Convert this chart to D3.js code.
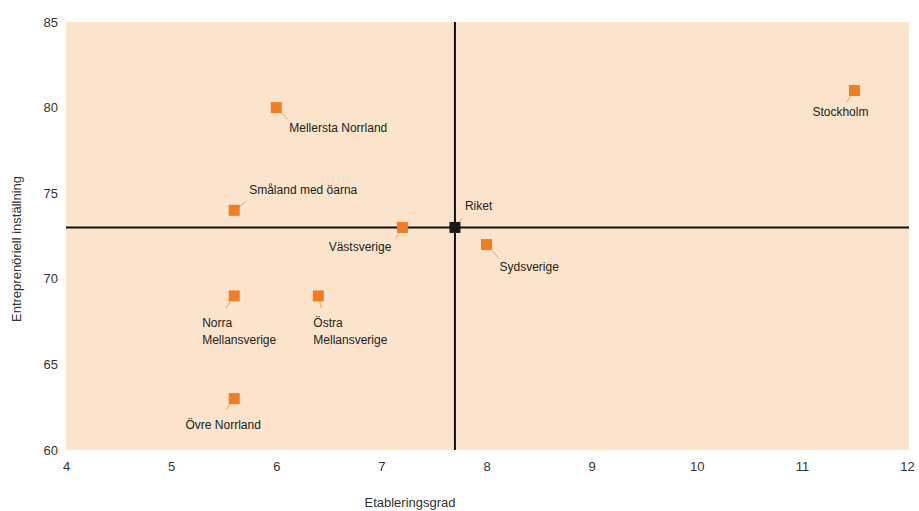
<!DOCTYPE html>
<html>
<head>
<meta charset="utf-8">
<script src="https://cdn.jsdelivr.net/npm/d3@7"></script>
<style>
  body { margin: 0; background: #fff; }
  text { font-family: "Liberation Sans", Arial, sans-serif; }
</style>
</head>
<body>
<div id="chart"></div>
<script>
var svgWidth = 919;
var svgHeight = 511;

var margin = { top: 22, right: 10, bottom: 61, left: 66 };
var width = svgWidth - margin.left - margin.right;
var height = svgHeight - margin.top - margin.bottom;

// data
var regions = ["Mellersta Norrland", "Småland med öarna", "Västsverige", "Riket", "Sydsverige",
  "Norra Mellansverige", "Östra Mellansverige", "Övre Norrland", "Stockholm"];
var etablering = [6.0, 5.6, 7.2, 7.7, 8.0, 5.6, 6.4, 5.6, 11.5];
var entreprenoriell = [80, 74, 73, 73, 72, 69, 69, 63, 81];
var xTicks = [4, 5, 6, 7, 8, 9, 10, 11, 12];
var yTicks = [60, 65, 70, 75, 80, 85];
var refX = 7.7;   // Riket
var refY = 73;

// label placement: [text dx, text dy, anchor, leader end dx, leader end dy]
var labelPos = [
  [13, 24, "start", 12, 12],
  [15, -16, "start", 12, -9],
  [-11, 24, "end", -7, 11],
  [10, -17, "start", 7, -9],
  [13, 26, "start", 12, 13],
  [-32, 31, "start", -8, 12],
  [-5, 31, "start", 3, 12],
  [-11, 30, "middle", -8, 11],
  [-14, 26, "middle", -8, 12]
];

var svg = d3.select("#chart")
  .append("svg")
  .attr("width", svgWidth)
  .attr("height", svgHeight);

var chartGroup = svg.append("g")
  .attr("transform", `translate(${margin.left}, ${margin.top})`);

var xScale = d3.scaleLinear().domain([4, 12]).range([0, width - 2]);
var yScale = d3.scaleLinear().domain([60, 85]).range([height, 0]);

// background
chartGroup.append("rect")
  .attr("x", 0).attr("y", 0)
  .attr("width", width).attr("height", height)
  .attr("fill", "#fce3cc");

// axes (labels only)
var xAxis = chartGroup.append("g")
  .attr("transform", `translate(0, ${height + 8})`)
  .call(d3.axisBottom(xScale).tickValues(xTicks).tickSize(0).tickPadding(4));
var yAxis = chartGroup.append("g")
  .attr("transform", "translate(-6, 0)")
  .call(d3.axisLeft(yScale).tickValues(yTicks).tickSize(0).tickPadding(2));
[xAxis, yAxis].forEach(function(a) {
  a.select(".domain").remove();
  a.selectAll("text")
    .attr("font-size", "13px")
    .attr("fill", "#333")
    .attr("font-family", "Liberation Sans, Arial, sans-serif");
});

// crosshair at Riket
chartGroup.append("line")
  .attr("x1", xScale(refX)).attr("x2", xScale(refX))
  .attr("y1", 0).attr("y2", height)
  .attr("stroke", "#111").attr("stroke-width", 2);
chartGroup.append("line")
  .attr("x1", 0).attr("x2", width)
  .attr("y1", yScale(refY)).attr("y2", yScale(refY))
  .attr("stroke", "#111").attr("stroke-width", 2);

var pts = regions.map(function(r, i) {
  return { name: r, x: etablering[i], y: entreprenoriell[i], lp: labelPos[i] };
});

// leader lines
chartGroup.selectAll(".leader")
  .data(pts).enter()
  .append("line")
  .attr("class", "leader")
  .attr("x1", d => xScale(d.x))
  .attr("y1", d => yScale(d.y))
  .attr("x2", d => xScale(d.x) + d.lp[3])
  .attr("y2", d => yScale(d.y) + d.lp[4])
  .attr("stroke", "#e8a26a")
  .attr("stroke-width", 1);

// markers
chartGroup.selectAll(".pt")
  .data(pts).enter()
  .append("rect")
  .attr("class", "pt")
  .attr("x", d => xScale(d.x) - 5.5)
  .attr("y", d => yScale(d.y) - 5.5)
  .attr("width", 11).attr("height", 11)
  .attr("fill", d => d.name === "Riket" ? "#1a1a1a" : "#f07d22");

// labels
chartGroup.selectAll(".lbl")
  .data(pts).enter()
  .append("text")
  .attr("class", "lbl")
  .attr("text-anchor", d => d.lp[2])
  .attr("font-size", "12px")
  .attr("fill", "#222")
  .each(function(d) {
    var words = d.name === "Norra Mellansverige" || d.name === "Östra Mellansverige"
      ? d.name.split(" ") : [d.name];
    var t = d3.select(this);
    words.forEach(function(w, k) {
      t.append("tspan")
        .attr("x", xScale(d.x) + d.lp[0])
        .attr("y", yScale(d.y) + d.lp[1] + k * 17)
        .text(w);
    });
  });

// axis titles
svg.append("text")
  .attr("x", 410).attr("y", 507)
  .attr("text-anchor", "middle")
  .attr("font-size", "13px")
  .attr("fill", "#333")
  .text("Etableringsgrad");

svg.append("text")
  .attr("transform", "translate(21, 249) rotate(-90)")
  .attr("text-anchor", "middle")
  .attr("font-size", "13px")
  .attr("fill", "#333")
  .text("Entreprenöriell inställning");
</script>
</body>
</html>
